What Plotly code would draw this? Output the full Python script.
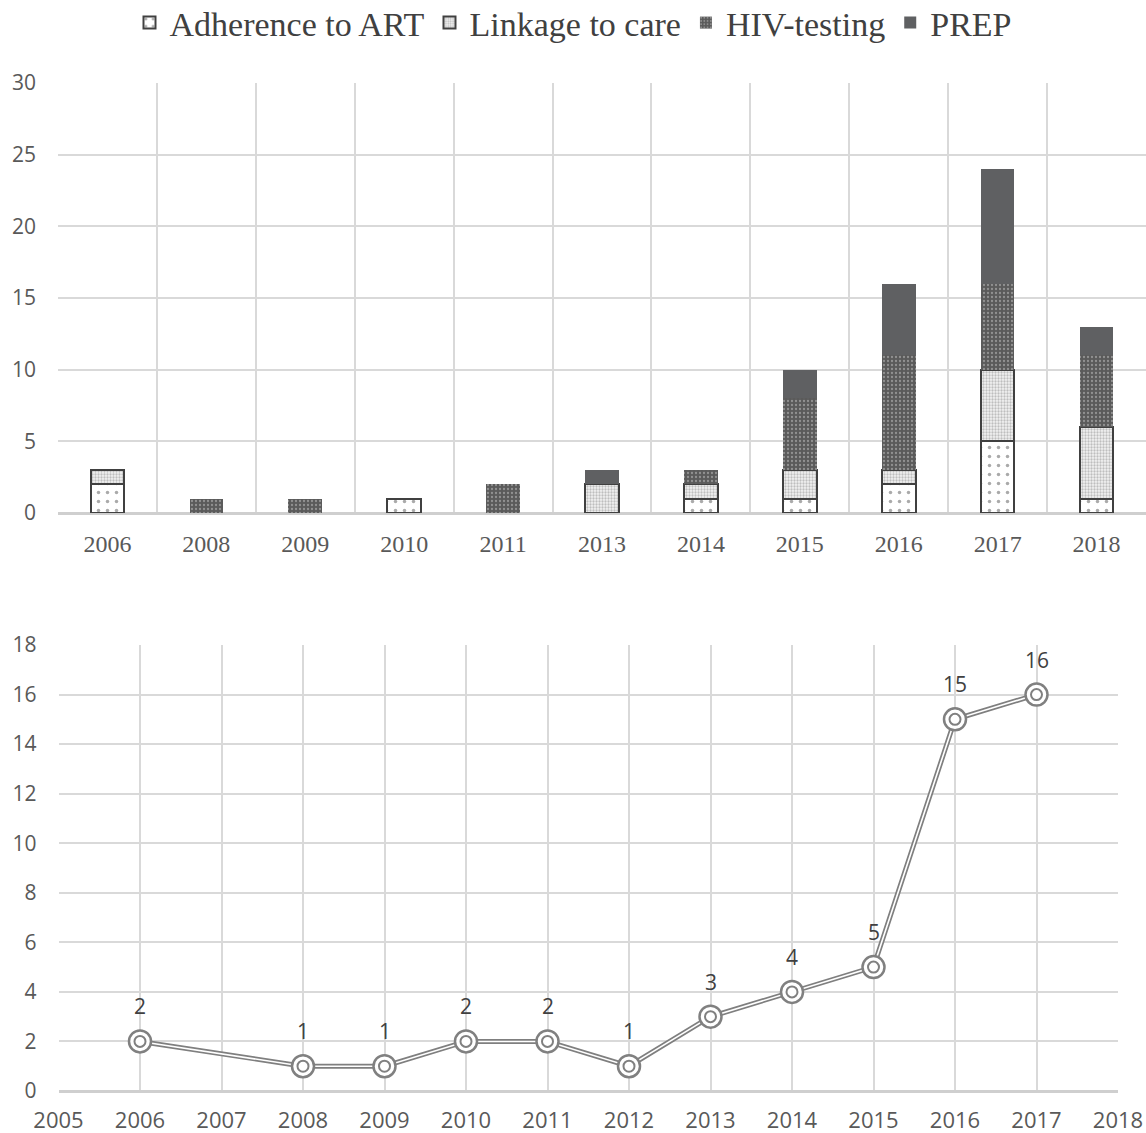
import plotly.graph_objects as go

# ---- Data: top stacked bar chart ----
bar_years = ["2006", "2008", "2009", "2010", "2011", "2013", "2014", "2015", "2016", "2017", "2018"]
adherence = [2, 0, 0, 1, 0, 0, 1, 1, 2, 5, 1]
linkage = [1, 0, 0, 0, 0, 2, 1, 2, 1, 5, 5]
hiv_testing = [0, 1, 1, 0, 2, 0, 1, 5, 8, 6, 5]
prep = [0, 0, 0, 0, 0, 1, 0, 2, 5, 8, 2]

# ---- Data: bottom line chart ----
line_years = [2006, 2008, 2009, 2010, 2011, 2012, 2013, 2014, 2015, 2016, 2017]
line_counts = [2, 1, 1, 2, 2, 1, 3, 4, 5, 15, 16]

SERIF = "Liberation Serif, Times New Roman, serif"
SANS = "Open Sans, Liberation Sans, sans-serif"
GRID = "#d9d9d9"
TXT = "#595959"

fig = go.Figure()

bw = 0.34
fig.add_trace(go.Bar(
    x=bar_years, y=adherence, name="Adherence to ART", width=bw,
    marker=dict(color="white", line=dict(color="#404040", width=2),
                pattern=dict(shape=".", bgcolor="white", fgcolor="#555555", size=9, solidity=0.12)),
    xaxis="x", yaxis="y"))
fig.add_trace(go.Bar(
    x=bar_years, y=linkage, name="Linkage to care", width=bw,
    marker=dict(color="#eeeeee", line=dict(color="#404040", width=2),
                pattern=dict(shape=".", bgcolor="#f2f2f2", fgcolor="#8a8a8a", size=3, solidity=0.45)),
    xaxis="x", yaxis="y"))
fig.add_trace(go.Bar(
    x=bar_years, y=hiv_testing, name="HIV-testing", width=bw,
    marker=dict(color="#5a5a5a", line=dict(width=0),
                pattern=dict(shape=".", bgcolor="#5a5a5a", fgcolor="#c8c8c8", size=4, solidity=0.25)),
    xaxis="x", yaxis="y"))
fig.add_trace(go.Bar(
    x=bar_years, y=prep, name="PREP", width=bw,
    marker=dict(color="#5f6062", line=dict(width=0)),
    xaxis="x", yaxis="y"))

# ---- bottom line chart (double line + double-ring markers) ----
fig.add_trace(go.Scatter(x=line_years, y=line_counts, mode="lines",
                         line=dict(color="#7f7f7f", width=5), showlegend=False,
                         hoverinfo="skip", xaxis="x2", yaxis="y2"))
fig.add_trace(go.Scatter(x=line_years, y=line_counts, mode="lines",
                         line=dict(color="white", width=1.6), showlegend=False,
                         hoverinfo="skip", xaxis="x2", yaxis="y2"))
fig.add_trace(go.Scatter(x=line_years, y=line_counts, mode="markers",
                         marker=dict(symbol="circle", size=22, color="white",
                                     line=dict(color="#808080", width=2.5)),
                         showlegend=False, xaxis="x2", yaxis="y2"))
fig.add_trace(go.Scatter(x=line_years, y=line_counts, mode="markers",
                         marker=dict(symbol="circle", size=11, color="white",
                                     line=dict(color="#808080", width=2)),
                         showlegend=False, xaxis="x2", yaxis="y2"))

annotations = []
for xv, yv in zip(line_years, line_counts):
    annotations.append(dict(x=xv, y=yv, xref="x2", yref="y2", text=str(yv),
                            showarrow=False, yshift=35, yanchor="middle",
                            font=dict(family=SANS, size=21, color="#404040")))

W, H = 1146, 1133


def px_x(v):
    return v / W


def px_y(v):
    return 1 - v / H


fig.update_layout(
    width=W, height=H, margin=dict(l=0, r=0, t=0, b=0, autoexpand=False),
    paper_bgcolor="white", plot_bgcolor="white",
    barmode="stack", bargap=0,
    showlegend=True,
    legend=dict(orientation="h", x=0.5, xanchor="center", y=px_y(23), yanchor="middle",
                traceorder="normal", font=dict(family=SERIF, size=34, color="#404040"),
                itemwidth=30, bgcolor="rgba(0,0,0,0)"),
    annotations=annotations,
    xaxis=dict(domain=[px_x(58), 1.0], anchor="y", type="category", automargin=False,
               tickson="boundaries", showgrid=True, gridcolor=GRID, gridwidth=2,
               showline=False, ticks="", ticklabelstandoff=14,
               tickfont=dict(family=SERIF, size=24, color=TXT), zeroline=False),
    yaxis=dict(domain=[px_y(513), px_y(83)], anchor="x", range=[0, 30], dtick=5,
               automargin=False,
               showgrid=True, gridcolor=GRID, gridwidth=2, zeroline=True,
               zerolinecolor="#cfcfcf", zerolinewidth=2.5, ticks="", ticklabelstandoff=21,
               tickfont=dict(family=SANS, size=21, color=TXT)),
    xaxis2=dict(domain=[px_x(58.5), px_x(1118)], anchor="y2", range=[2005, 2018], dtick=1,
                automargin=False,
                showgrid=True, gridcolor=GRID, gridwidth=2, zeroline=False,
                ticks="", ticklabelstandoff=14,
                tickfont=dict(family=SANS, size=22, color=TXT)),
    yaxis2=dict(domain=[px_y(1091), px_y(645)], anchor="x2", range=[0, 18], dtick=2,
                automargin=False,
                showgrid=True, gridcolor=GRID, gridwidth=2, zeroline=True,
                zerolinecolor="#cfcfcf", zerolinewidth=2.5, ticks="", ticklabelstandoff=21,
                tickfont=dict(family=SANS, size=21, color=TXT)),
)

# remove the browser's default page margin so the figure fills the window exactly
fig.write_html("out.html",
               config={"displayModeBar": False},
               post_script="document.body.style.margin='0';document.body.style.overflow='hidden';")
